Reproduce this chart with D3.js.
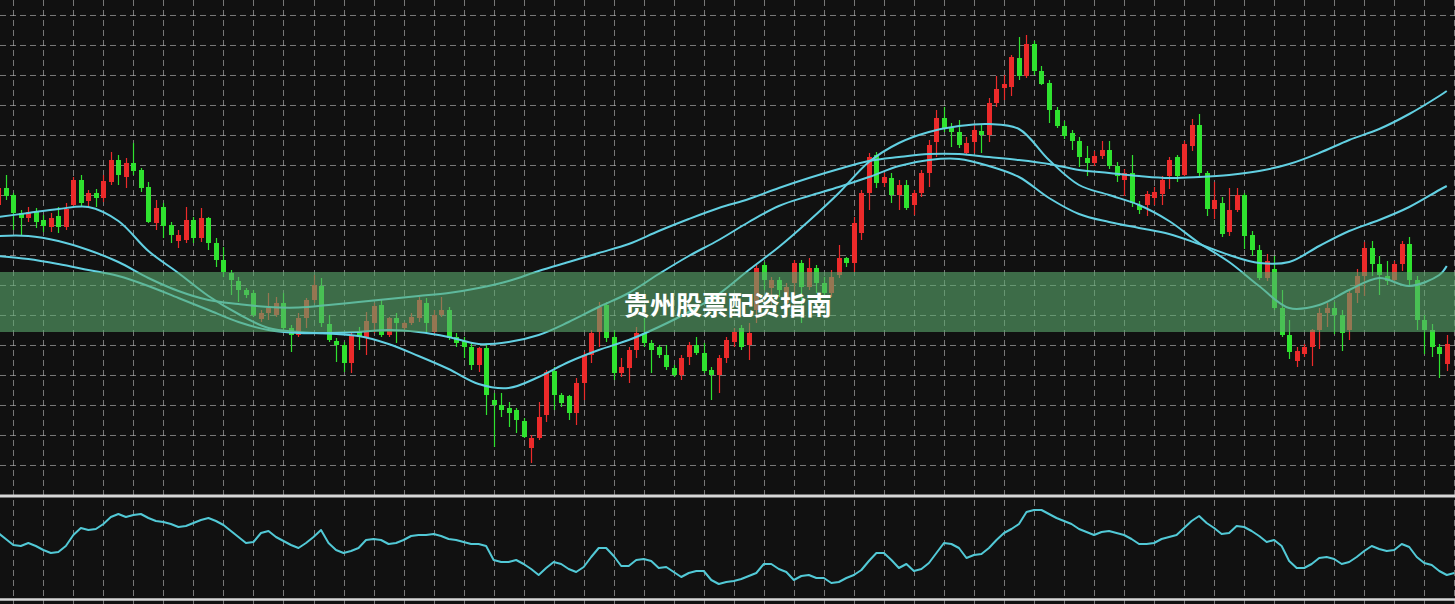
<!DOCTYPE html>
<html><head><meta charset="utf-8">
<script src="https://cdn.jsdelivr.net/npm/d3@7"></script>
<style>html,body{margin:0;padding:0;background:#111;overflow:hidden;} svg{display:block;}</style>
</head><body><svg id="chart" width="1455" height="604"></svg>
<script>
const candleOpen = [295,312,305,287,282,289,280,273,284,273,295,320,299,307,302,318,340,323,337,330,313,277,293,275,259,260,280,262,282,257,240,227,219,210,207,181,187,185,197,172,165,182,200,214,176,159,155,137,168,163,177,195,165,182,172,177,182,197,168,185,190,163,159,153,135,152,100,95,92,90,79,52,62,85,129,105,104,87,117,145,168,195,163,127,132,150,167,157,153,145,132,125,143,155,147,130,125,142,158,172,155,190,235,212,220,197,217,237,213,232,217,207,225,242,237,267,307,345,317,322,305,315,295,307,327,358,382,372,368,347,358,369,365,397,412,413,442,424,456,429,417,390,374,367,359,342,337,344,350,334,320,327,295,295,302,306,324,343,325,354,375,327,291,297,268,290,305,265,250,222,231,192,165,139,146,153,170,187,192,185,170,207,224,252,236,224,220,236,256,220,180,170,153,136];
const candleHigh = [315,325,307,290,293,292,285,287,293,297,323,325,310,311,325,348,345,342,357,332,318,300,297,278,270,293,283,292,283,262,253,230,223,212,210,190,207,203,207,175,187,202,225,222,185,162,158,168,173,188,197,200,183,187,178,187,203,202,190,203,193,167,163,157,153,155,107,107,98,92,82,65,98,130,133,107,105,122,148,170,198,198,170,142,153,173,182,160,155,155,135,145,158,163,157,133,145,163,172,175,177,235,238,223,223,217,240,240,242,235,223,230,255,243,283,310,347,348,327,327,320,320,310,330,360,390,393,377,380,363,375,375,402,424,425,445,463,465,459,434,420,393,379,370,363,354,349,359,359,338,331,345,299,309,313,324,343,345,359,381,386,329,318,303,312,312,307,269,255,246,244,210,180,153,156,171,192,197,198,190,210,231,258,259,244,239,239,259,263,224,185,176,156,165];
const candleLow = [290,300,270,265,278,272,268,268,267,270,293,293,293,293,298,315,315,312,325,308,277,270,262,257,252,257,257,258,250,233,223,205,198,202,183,178,180,183,167,148,163,172,197,173,158,138,128,127,150,145,167,163,163,157,170,175,178,167,167,183,160,153,142,130,128,85,53,83,73,67,62,37,60,78,90,93,80,75,100,137,153,158,120,123,117,142,153,127,142,130,123,120,135,145,127,100,107,137,153,150,140,177,210,193,203,188,193,177,210,207,203,203,222,233,228,260,290,312,313,297,290,290,285,303,313,343,368,353,352,345,347,347,358,393,400,404,420,422,425,415,377,372,361,350,333,324,334,341,331,318,304,293,286,284,295,295,311,318,324,349,324,284,281,263,264,288,251,244,220,219,190,163,141,133,143,134,151,173,166,149,160,197,204,224,205,215,219,229,215,170,146,143,122,129];
const candleClose = [312,304,287,282,288,278,274,282,273,291,320,297,307,302,319,340,325,337,329,312,278,292,274,265,265,280,262,282,257,240,228,220,210,205,185,187,192,197,172,165,182,200,215,177,160,155,137,165,163,179,194,165,182,177,177,183,200,177,185,190,162,157,153,135,152,105,95,90,87,80,63,62,83,128,105,97,87,117,145,167,193,162,127,133,150,167,157,150,145,133,125,142,155,147,129,125,142,160,168,153,167,232,220,220,210,213,237,213,232,217,207,223,242,237,277,307,343,317,323,305,315,292,307,327,355,382,372,368,355,357,370,365,397,411,416,443,424,456,429,416,390,374,364,359,343,337,344,350,334,324,327,297,290,306,308,320,340,324,356,375,327,291,300,266,290,305,264,250,222,239,192,165,148,149,153,170,187,192,185,167,207,224,252,236,225,219,236,256,220,180,170,153,146,156];

const maIndex = [0,4,8,12,16,20,24,28,32,36,40,44,48,52,56,60,64,68,72,76,80,84,88,92,96,100,104,108,112,116,120,124,128,132,136,140,144,148,152,156,160,164,168,172,176,180,184,188,192,193];
const maFast = [283,287,291,293,279,249,227,204,186,172,168,166.5,164,156,144,131,116,112,123,138,150,160,173,188,206,230,253,279,307,338,357,368,374,376,371,340,315,305,295,279,257,238,214,192,195,210,222,214,225,234];
const maMid = [244,241,236,230,224,214,202,190,178,170,167,167,168,170,168,163,156,158,165,178,193,207,226,244,260,278,294,304,313,323,334,340,341,334,323,302,286,278,272,266,256,245,237,238,254,269,280,293,310,314];
const maSlow = [264,264,259,250,238,222,209,200,196,193,192.5,195,198,201,204,207,212,219,229,238,247,256,269,281,292,301,312,322,331,339,343,346,346,343,340,336,330,327,324,322,323,325,329,336,347,360,371,386,404,409];

const oscValues = [65,59,53,52,55,52,48,45,46,52,63,70,68,69,74,81,84,81,83,84,80,77,76,74,71,72,75,78,80,77,73,67,61,55,56,65,67,61,57,53,50,55,61,68,55,48,45,47,50,58,59,58,54,55,58,62,63,63,64,62,59,58,56,54,54,52,38,36,36,38,34,29,23,30,36,34,29,26,31,41,50,50,42,32,32,38,39,37,30,31,26,21,25,27,27,18,14,16,17,19,22,25,34,34,29,26,18,22,23,20,20,15,16,20,23,28,37,45,45,38,30,34,27,29,35,45,55,54,50,40,43,44,50,58,65,69,74,86,88,88,84,80,77,74,69,66,63,66,67,65,63,59,54,54,55,59,61,63,70,77,82,75,70,64,65,72,71,67,62,56,58,52,37,30,30,34,40,41,39,34,36,41,47,52,49,47,48,54,51,41,35,33,27,23,25];

const gridPriceTicks = [35,65,95,125,155,185,215,245,275,305,335,365,395,425,455,485];
const gridIndexTicks = d3.range(2, 195, 4);
const bannerText = "贵州股票配资指南";

const W = 1455, H = 604;
const svg = d3.select("#chart");
const x = d3.scaleLinear().domain([0, 193]).range([-1.7, -1.7 + 7.505 * 193]);
const y = d3.scaleLinear().domain([0, 500]).range([500, 0]);
const yOsc = d3.scaleLinear().domain([0, 100]).range([598, 498]);

svg.append("rect").attr("width", W).attr("height", H).attr("fill", "#111111");

const grid = svg.append("g").attr("stroke", "rgba(190,190,190,0.6)").attr("stroke-width", 1).attr("stroke-dasharray", "6,4");
grid.selectAll("line.v").data(gridIndexTicks).join("line").attr("class", "v")
  .attr("x1", d => Math.round(x(d)) + 0.5).attr("x2", d => Math.round(x(d)) + 0.5)
  .attr("y1", 0).attr("y2", H);
grid.selectAll("line.h").data(gridPriceTicks).join("line").attr("class", "h")
  .attr("x1", 0).attr("x2", W)
  .attr("y1", d => Math.round(y(d)) + 0.5).attr("y2", d => Math.round(y(d)) + 0.5);

const up = "#ec2a2a", down = "#2fe22f";
const idx = d3.range(candleOpen.length);
const cg = svg.append("g");
cg.selectAll("line").data(idx).join("line")
  .attr("x1", i => Math.round(x(i)) + 0.5).attr("x2", i => Math.round(x(i)) + 0.5)
  .attr("y1", i => y(candleHigh[i])).attr("y2", i => y(candleLow[i]))
  .attr("stroke", i => candleClose[i] >= candleOpen[i] ? up : down).attr("stroke-width", 1.2);
cg.selectAll("rect").data(idx).join("rect")
  .attr("x", i => Math.round(x(i)) - 2)
  .attr("width", 5)
  .attr("y", i => y(Math.max(candleOpen[i], candleClose[i])))
  .attr("height", i => Math.max(1.5, Math.abs(y(candleOpen[i]) - y(candleClose[i]))))
  .attr("fill", i => candleClose[i] >= candleOpen[i] ? up : down);

const maLine = arr => d3.line().x((d, k) => x(maIndex[k])).y(d => y(d)).curve(d3.curveCatmullRom.alpha(0.5))(arr);
[maSlow, maMid, maFast].forEach(arr => {
  svg.append("path").attr("d", maLine(arr)).attr("fill", "none")
    .attr("stroke", "#62d0e2").attr("stroke-width", 2);
});

svg.append("line").attr("x1", 0).attr("x2", W).attr("y1", 496).attr("y2", 496).attr("stroke", "#d8d8d8").attr("stroke-width", 3);
svg.append("line").attr("x1", 0).attr("x2", W).attr("y1", 599.5).attr("y2", 599.5).attr("stroke", "#d8d8d8").attr("stroke-width", 2.5);

svg.append("path")
  .attr("d", d3.line().x((d, i) => x(i)).y(d => yOsc(d))(oscValues))
  .attr("fill", "none").attr("stroke", "#52c9d6").attr("stroke-width", 2).attr("stroke-linejoin", "round");

svg.append("rect").attr("x", 0).attr("y", 272).attr("width", W).attr("height", 60)
  .attr("fill", "rgba(92,170,110,0.6)");
svg.append("text").attr("x", 728).attr("y", 303).attr("text-anchor", "middle")
  .attr("dominant-baseline", "central")
  .attr("font-family", "'Noto Sans CJK SC', 'Noto Sans', sans-serif")
  .attr("font-weight", 700).attr("font-size", 26).attr("fill", "#ffffff")
  .text(bannerText);
</script>
</body></html>
